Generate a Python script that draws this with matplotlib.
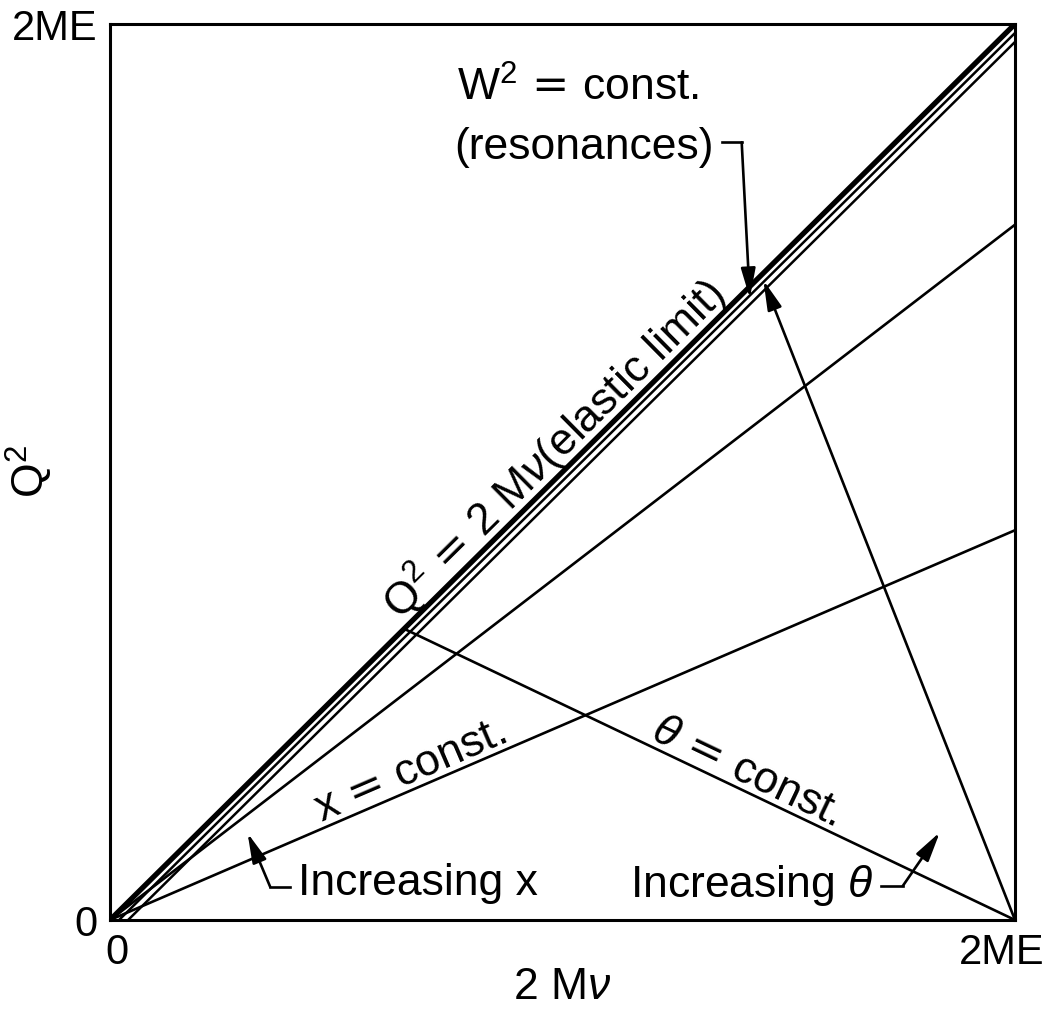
import numpy as np
import matplotlib
matplotlib.use("Agg")
import matplotlib.pyplot as plt
import matplotlib.transforms as mtransforms

plt.rcParams['font.family'] = ['Liberation Sans', 'DejaVu Sans']
plt.rcParams['mathtext.fontset'] = 'custom'
plt.rcParams['mathtext.rm'] = 'Liberation Sans'
plt.rcParams['mathtext.it'] = 'Liberation Sans:italic'
plt.rcParams['mathtext.sf'] = 'DejaVu Sans'   # wide "=" sign

# axes run 0..1 in units of 2ME
tick_pos = [0, 1]
tick_labels = ['0', '2ME']

# W^2 = const lines: Q^2 = 2Mv - offset (offset 0 = elastic limit)
resonance_offsets = [0.0, 0.01, 0.02]
resonance_widths = [3.8, 1.8, 1.8]

# x = const lines: Q^2 = slope * 2Mv
x_const_slopes = [0.776, 0.435]

# theta = const lines run from (2ME, 0) up to the elastic line
theta_tops_x = [0.325, 0.722]
theta_tops_y = [0.325, 0.714]

EQ = '$\\,\\mathsf{=}\\,$'
FS = 32

fig = plt.figure(figsize=(10.49, 10.25), dpi=100)
ax = fig.add_axes([110/1049, 105/1025, 905/1049, 896/1025])
ax.set_xlim(0, 1)
ax.set_ylim(0, 1)

lw = 1.9
# resonance band
for off, w in zip(resonance_offsets, resonance_widths):
    xs = np.array([off, 1.0])
    ax.plot(xs, xs - off, color='black', lw=w, solid_capstyle='butt')

# x = const
for s in x_const_slopes:
    ax.plot([0, 1], [0, s], color='black', lw=lw)

arrow_style = dict(arrowstyle='-|>,head_length=0.9,head_width=0.22',
                   color='black', lw=lw, shrinkA=0, shrinkB=0, mutation_scale=20)

# theta = const (first plain, second with arrow head at top)
ax.plot([1, theta_tops_x[0]], [0, theta_tops_y[0]], color='black', lw=lw)
ax.annotate('', xy=(theta_tops_x[1], theta_tops_y[1]), xytext=(1, 0),
            arrowprops=arrow_style)

# labels on the lines
ax.text(0.503, 0.514, 'Q$^2$' + EQ + '2 M$\\nu$(elastic limit)', fontsize=FS,
        rotation=44.7, rotation_mode='anchor', ha='center', va='baseline')
ax.text(0.337, 0.154, 'x' + EQ + 'const.', fontsize=FS,
        rotation=23.3, rotation_mode='anchor', ha='center', va='baseline')
ax.text(0.698, 0.154, '$\\theta$' + EQ + 'const.', fontsize=FS,
        rotation=-25.5, rotation_mode='anchor', ha='center', va='baseline')

ax.text(0.383, 0.928, 'W$^2$' + EQ + 'const.', fontsize=FS, ha='left', va='center')
ax.text(0.380, 0.862, '(resonances)', fontsize=FS, ha='left', va='center')
ax.text(0.208, 0.028, 'Increasing x', fontsize=FS, ha='left', va='baseline')
ax.text(0.575, 0.026, 'Increasing $\\theta$', fontsize=FS, ha='left', va='baseline')


def bent_arrow(pts):
    xs = [p[0] for p in pts[:-1]]
    ys = [p[1] for p in pts[:-1]]
    ax.plot(xs, ys, color='black', lw=lw, solid_joinstyle='miter')
    ax.annotate('', xy=pts[-1], xytext=pts[-2], arrowprops=arrow_style)


bent_arrow([(0.676, 0.868), (0.698, 0.868), (0.707, 0.694)])
bent_arrow([(0.199, 0.037), (0.177, 0.037), (0.152, 0.097)])
bent_arrow([(0.852, 0.038), (0.876, 0.038), (0.917, 0.098)])

# frame and ticks
for sp in ax.spines.values():
    sp.set_linewidth(2.2)
ax.set_xticks(tick_pos, tick_labels, fontsize=30)
ax.set_yticks(tick_pos, tick_labels, fontsize=30)
ax.tick_params(length=0, pad=9)
xl = ax.get_xticklabels()
xl[0].set_transform(xl[0].get_transform() + mtransforms.ScaledTranslation(0.07, 0, fig.dpi_scale_trans))
xl[1].set_transform(xl[1].get_transform() + mtransforms.ScaledTranslation(-0.13, 0, fig.dpi_scale_trans))

ax.set_xlabel('2 M$\\nu$', fontsize=FS)
ax.set_ylabel('Q$^2$', fontsize=FS)
ax.xaxis.set_label_coords(0.5, -0.053)
ax.yaxis.set_label_coords(-0.061, 0.5)

fig.savefig('out.png', dpi=100)
